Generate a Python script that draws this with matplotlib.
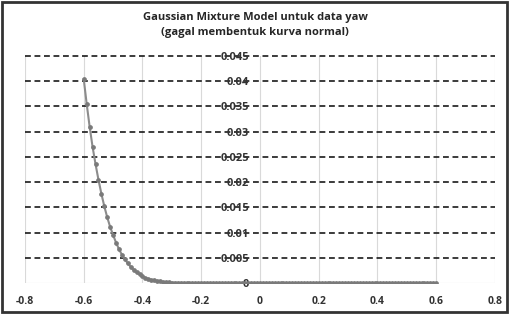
import numpy as np
import matplotlib.pyplot as plt
from matplotlib.patches import Rectangle

plt.rcParams['font.family'] = ['Open Sans', 'DejaVu Sans']

# density values for yaw, one sample every 0.01 from -0.6 to 0.6
yaw_density = [0.0404, 0.0355, 0.0310, 0.0270, 0.0236, 0.0205, 0.0177, 0.0152,
               0.0130, 0.0111, 0.0095, 0.0080, 0.0067, 0.0056, 0.0047, 0.0039,
               0.0032, 0.0026, 0.0021, 0.0017, 0.0013, 0.0010, 0.0008, 0.0006,
               0.0005, 0.0004, 0.0003, 0.0002, 0.00015, 0.0001, 0.00007,
               0.00005, 0.00003, 0.00002, 0.00001] + [0.0] * 86
yaw_x = np.linspace(-0.6, 0.6, len(yaw_density))

xticks = [-0.8, -0.6, -0.4, -0.2, 0, 0.2, 0.4, 0.6, 0.8]
xtick_labels = ['-0.8', '-0.6', '-0.4', '-0.2', '0', '0.2', '0.4', '0.6', '0.8']
yticks = [0, 0.005, 0.01, 0.015, 0.02, 0.025, 0.03, 0.035, 0.04, 0.045]
ytick_labels = ['0', '0.005', '0.01', '0.015', '0.02', '0.025', '0.03', '0.035', '0.04', '0.045']

fig = plt.figure(figsize=(5.1, 3.14), dpi=100)
ax = fig.add_axes([25 / 510, 1 - 283 / 314, 470 / 510, 227 / 314])

# vertical light grid
for xv in xticks:
    ax.axvline(xv, color='#d9d9d9', lw=0.8, zorder=0)
# horizontal dashed grid
for yv in yticks[1:]:
    ax.axhline(yv, color='#1a1a1a', lw=1.2, linestyle=(0, (3.5, 2.2)), zorder=1,
               clip_on=False)
ax.axhline(0, color='#d9d9d9', lw=0.8, zorder=0)

ax.plot(yaw_x, yaw_density, color='#8c8c8c', lw=1.5, marker='o', ms=2.4,
        markerfacecolor='#7a7a7a', markeredgecolor='#7a7a7a', zorder=3)

ax.set_xlim(-0.8, 0.8)
ax.set_ylim(0, 0.045)
ax.set_xticks(xticks)
ax.set_xticklabels(xtick_labels)
ax.set_yticks(yticks)
ax.set_yticklabels(ytick_labels)
for s in ['top', 'right', 'bottom']:
    ax.spines[s].set_visible(False)
ax.spines['left'].set_position(('data', 0))
ax.spines['left'].set_visible(False)
ax.tick_params(length=0, pad=8)
ax.tick_params(axis='y', labelsize=8)
ax.tick_params(axis='x', labelsize=7.5, pad=9)
for lbl in ax.get_xticklabels() + ax.get_yticklabels():
    lbl.set_fontweight('bold')
    lbl.set_color('#333333')

fig.text(0.5, 1 - 25 / 314, 'Gaussian Mixture Model untuk data yaw\n(gagal membentuk kurva normal)',
         ha='center', va='center', fontsize=8, fontweight='bold', color='#262626',
         linespacing=1.4)

fig.patches.append(Rectangle((0.003, 0.005), 0.992, 0.99, transform=fig.transFigure,
                             fill=False, edgecolor='#333333', lw=2))

fig.savefig('out.png', dpi=100)
